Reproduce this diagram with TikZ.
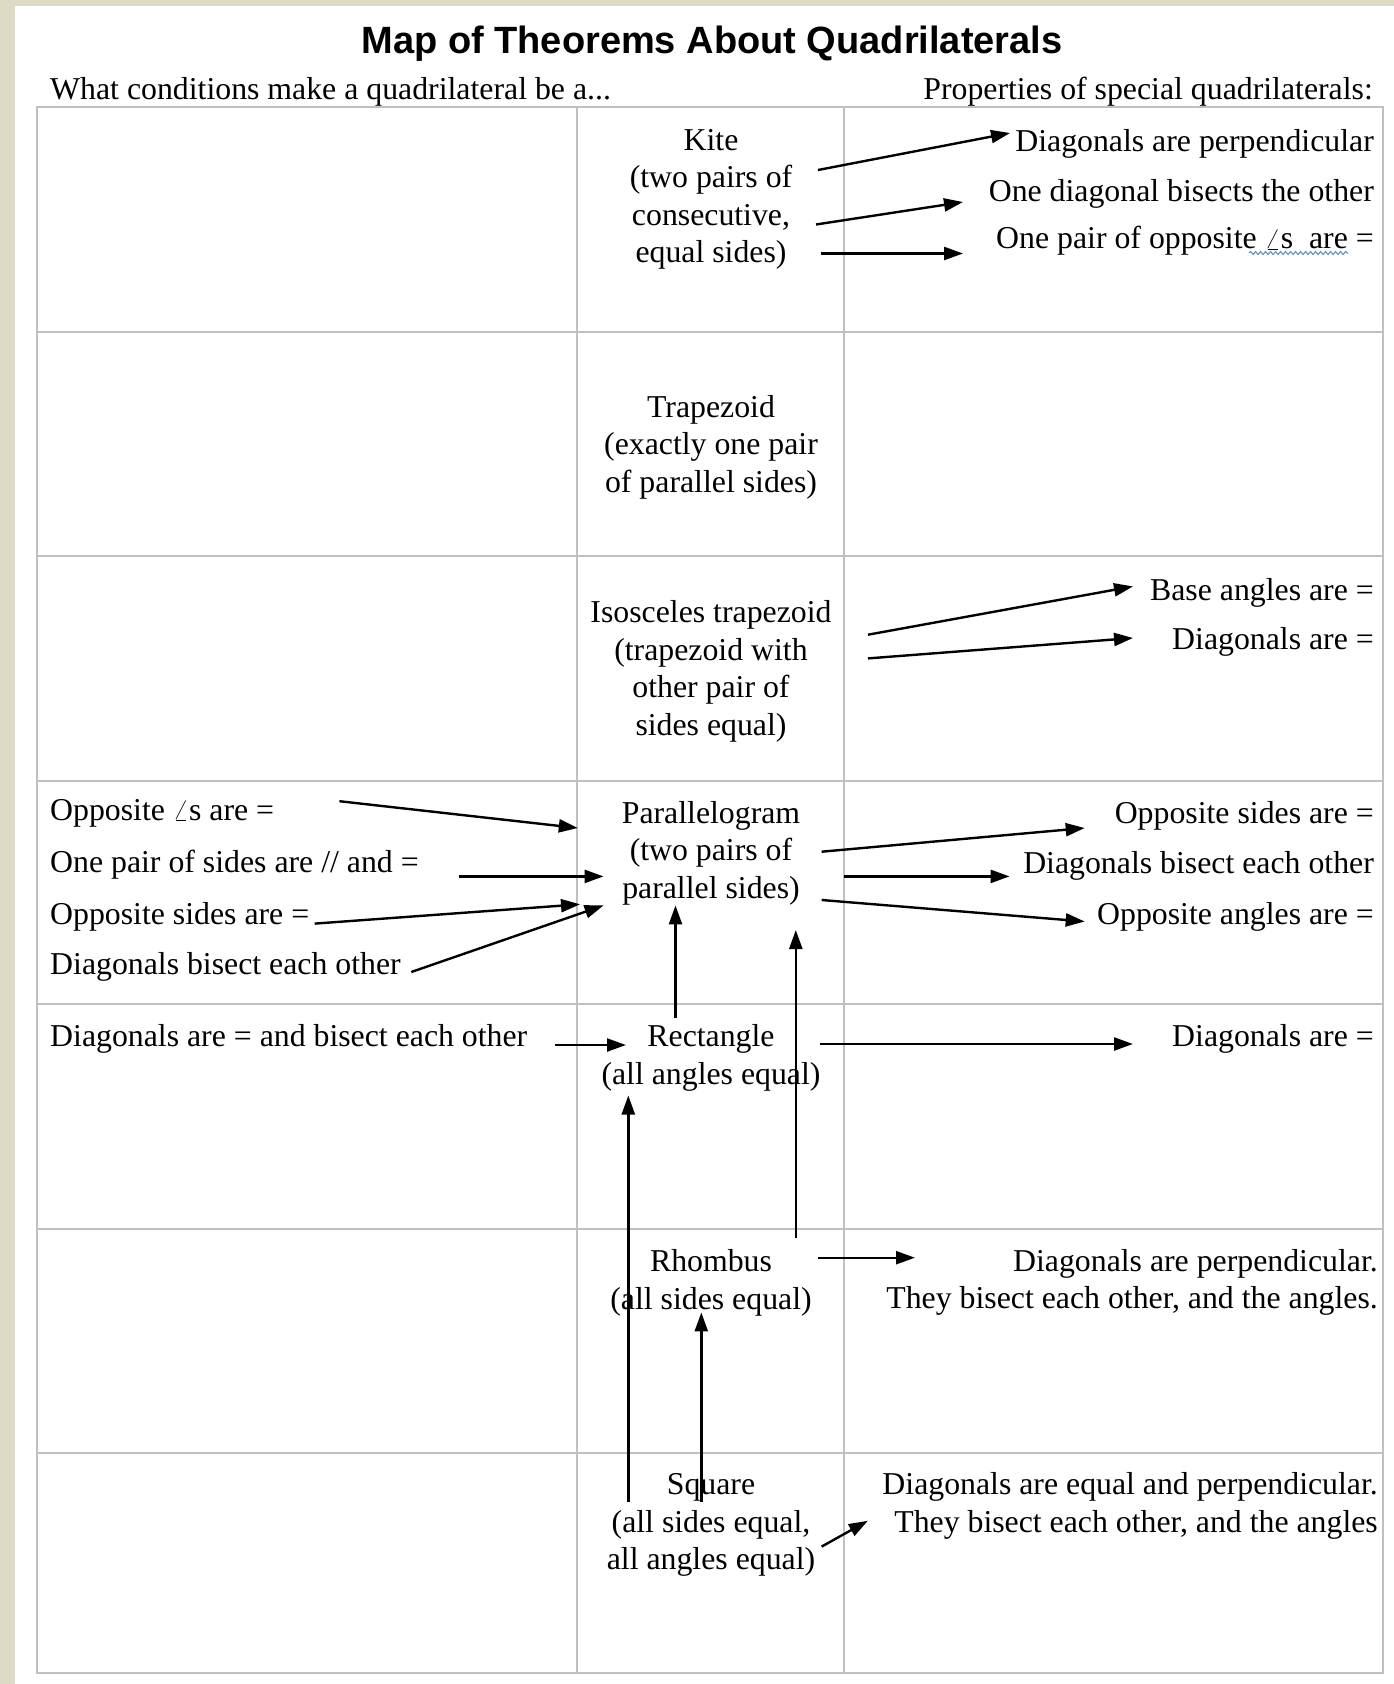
\documentclass[tikz,border=0pt]{standalone}
\usepackage{fontspec}
\setmainfont{Liberation Serif}
\newfontfamily\titlefont{Liberation Sans}
\usetikzlibrary{arrows.meta,decorations.pathmorphing}
\definecolor{beige}{RGB}{221,219,198}
\definecolor{gridgray}{RGB}{192,192,192}
\definecolor{squig}{RGB}{90,140,180}
\begin{document}
\begin{tikzpicture}[x=1pt,y=-1pt,
  txt/.style={inner sep=0pt, yshift=-4pt, font=\fontsize{31.8}{37.5}\selectfont, text height=22pt, text depth=7pt},
  mtxt/.style={inner sep=0pt, yshift=-4pt, align=center, font=\fontsize{31.8}{37.5}\selectfont},
  rtxt/.style={inner sep=0pt, yshift=-4pt, align=right, font=\fontsize{31.8}{37.5}\selectfont},
  arr/.style={-{Triangle[length=19pt,width=13pt]}, line width=2.4pt, black},
  grid/.style={draw=gridgray, line width=2pt}]
\useasboundingbox (0,0) rectangle (1394,1684);
\fill[white] (0,0) rectangle (1394,1684);
\fill[beige] (0,0) rectangle (15,1684);
\fill[beige] (0,0) rectangle (1394,6);
% grid
\draw[grid] (37,107) rectangle (1383,1673);
\draw[grid] (577,107) -- (577,1673);
\draw[grid] (844,107) -- (844,1673);
\foreach \yy in {332,556,781,1004,1229,1453} {\draw[grid] (37,\yy) -- (1383,\yy);}
% title and headers
\node[inner sep=0pt] (title) at (712,44) {\titlefont\bfseries\fontsize{38}{44}\selectfont Map of Theorems About Quadrilaterals};
\node[txt, anchor=west] (hleft) at (50,88) {What conditions make a quadrilateral be a...};
\node[txt, anchor=east] (hright) at (1373,88) {Properties of special quadrilaterals:};
% middle column
\node[mtxt] (kite) at (711,195.5) {Kite\\(two pairs of\\consecutive,\\equal sides)};
\node[mtxt] (trap) at (711,443) {Trapezoid\\(exactly one pair\\of parallel sides)};
\node[mtxt] (isos) at (711,667.5) {Isosceles trapezoid\\(trapezoid with\\other pair of\\sides equal)};
\node[mtxt] (para) at (711,849) {Parallelogram\\(two pairs of\\parallel sides)};
\node[mtxt] (rect) at (711,1054) {Rectangle\\(all angles equal)};
\node[mtxt] (rhom) at (711,1278.6) {Rhombus\\(all sides equal)};
\node[mtxt] (squa) at (711,1521) {Square\\(all sides equal,\\all angles equal)};
% right column
\node[txt, anchor=east] (kp1) at (1374,139.6) {Diagonals are perpendicular};
\node[txt, anchor=east] (kp2) at (1374,190) {One diagonal bisects the other};
\node[txt, anchor=east] (kp3) at (1374,237.4) {One pair of opposite $\angle$s\ \ are =};
\node[txt, anchor=east] (ip1) at (1374,588.6) {Base angles are =};
\node[txt, anchor=east] (ip2) at (1374,638) {Diagonals are =};
\node[txt, anchor=east] (pp1) at (1374,812) {Opposite sides are =};
\node[txt, anchor=east] (pp2) at (1374,862.4) {Diagonals bisect each other};
\node[txt, anchor=east] (pp3) at (1374,913) {Opposite angles are =};
\node[txt, anchor=east] (rp1) at (1374,1035.3) {Diagonals are =};
\node[rtxt, anchor=east] (hp1) at (1378,1278.6) {Diagonals are perpendicular.\\They bisect each other, and the angles.};
\node[rtxt, anchor=east] (sp1) at (1378,1502) {Diagonals are equal and perpendicular.\\They bisect each other, and the angles};
% left column
\node[txt, anchor=west] (pc1) at (50,808.7) {Opposite $\angle$s are =};
\node[txt, anchor=west] (pc2) at (50,861.4) {One pair of sides are // and =};
\node[txt, anchor=west] (pc3) at (50,913) {Opposite sides are =};
\node[txt, anchor=west] (pc4) at (50,963.4) {Diagonals bisect each other};
\node[txt, anchor=west] (rc1) at (50,1035.3) {Diagonals are = and bisect each other};
% squiggle
\coordinate (sqa) at (1249,253);
\coordinate (sqb) at (1348,253);
\draw[squig, line width=1pt, decorate, decoration={snake, amplitude=1.5pt, segment length=5pt}] (sqa) -- (sqb);
% arrow coordinates
\coordinate (a1s) at (818,170);   \coordinate (a1e) at (1010,133);
\coordinate (a2s) at (816,224.5); \coordinate (a2e) at (963,202);
\coordinate (a3s) at (820.5,253.5); \coordinate (a3e) at (963,253.5);
\coordinate (a4s) at (868,634.7); \coordinate (a4e) at (1133,586.4);
\coordinate (a5s) at (868,658.4); \coordinate (a5e) at (1133,638);
\coordinate (a6s) at (339.4,801.2); \coordinate (a6e) at (577.8,828);
\coordinate (a7s) at (458.6,876.4); \coordinate (a7e) at (603.6,876.4);
\coordinate (a8s) at (314.7,923.6); \coordinate (a8e) at (580,904.3);
\coordinate (a9s) at (411.3,972); \coordinate (a9e) at (603.6,905.4);
\coordinate (a10s) at (821.6,851.7); \coordinate (a10e) at (1084.7,828);
\coordinate (a11s) at (844,876.4); \coordinate (a11e) at (1009.6,876.4);
\coordinate (a12s) at (821.6,900); \coordinate (a12e) at (1084.7,921.5);
\coordinate (a13s) at (675.5,1018); \coordinate (a13e) at (675.5,905.4);
\coordinate (a14s) at (555.3,1045); \coordinate (a14e) at (626,1045);
\coordinate (a15s) at (819.5,1044); \coordinate (a15e) at (1133,1044);
\coordinate (a16s) at (795.8,1238.3); \coordinate (a16e) at (795.8,930);
\coordinate (a17s) at (818.4,1257.7); \coordinate (a17e) at (915,1257.7);
\coordinate (a18s) at (628.3,1501.5); \coordinate (a18e) at (628.3,1095.5);
\coordinate (a19s) at (701.3,1501.5); \coordinate (a19e) at (701.3,1312.4);
\coordinate (a20s) at (821.6,1546.6); \coordinate (a20e) at (867.8,1520.8);
\foreach \i in {1,...,20} {\draw[arr] (a\i s) -- (a\i e);}
\end{tikzpicture}
\end{document}
